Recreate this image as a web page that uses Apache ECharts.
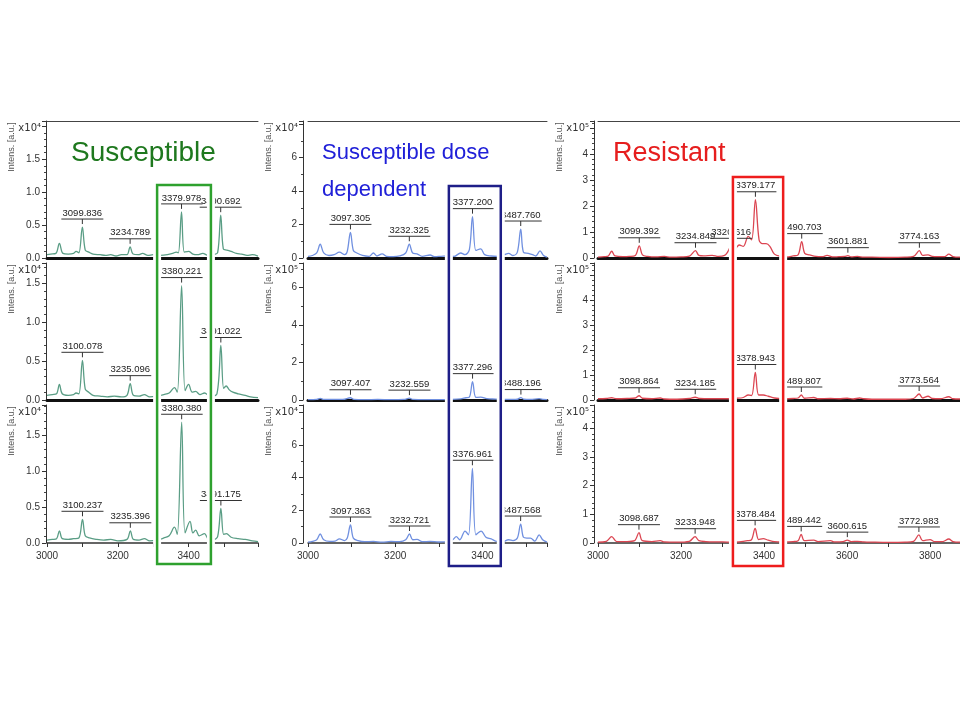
<!DOCTYPE html>
<html>
<head>
<meta charset="utf-8">
<script src="https://cdn.jsdelivr.net/npm/echarts@6/dist/echarts.min.js"></script>
<style>
  html, body { margin: 0; padding: 0; background: #fff; }
  #chart { width: 960px; height: 720px; }
</style>
</head>
<body>
<div id="chart"></div>
<script>
// spectra, [m/z, intensity] ; col1 x10^4, col2 x10^4 / x10^5, col3 x10^5
var susTop = [[3000,0.05],[3010,0.06],[3025,0.07],[3035,0.22],[3045,0.07],[3060,0.06],[3075,0.07],[3082,0.1],[3090,0.08],[3099.836,0.47],[3108,0.12],[3118,0.09],[3130,0.06],[3150,0.05],[3165,0.04],[3180,0.05],[3195,0.03],[3210,0.05],[3226,0.05],[3234.789,0.17],[3243,0.06],[3258,0.05],[3270,0.07],[3285,0.04],[3300,0.05],[3320,0.04],[3340,0.05],[3355,0.07],[3365,0.09],[3371,0.08],[3379.978,0.70],[3388,0.09],[3400,0.1],[3412,0.06],[3425,0.05],[3440,0.07],[3455,0.04],[3470,0.05],[3482,0.08],[3490.692,0.65],[3498,0.14],[3508,0.12],[3520,0.1],[3535,0.07],[3550,0.06],[3565,0.04],[3580,0.05],[3596,0.03]]
var susMid = [[3000,0.06],[3015,0.07],[3027,0.08],[3035,0.2],[3043,0.08],[3060,0.06],[3075,0.07],[3082,0.09],[3090,0.08],[3100.078,0.51],[3108,0.14],[3118,0.1],[3130,0.06],[3150,0.05],[3170,0.04],[3190,0.05],[3210,0.04],[3226,0.06],[3235.096,0.21],[3244,0.06],[3260,0.05],[3275,0.07],[3290,0.04],[3310,0.05],[3330,0.07],[3345,0.09],[3360,0.16],[3368,0.1],[3380.221,1.47],[3390,0.12],[3400,0.2],[3410,0.1],[3420,0.11],[3432,0.07],[3445,0.09],[3460,0.05],[3480,0.08],[3491.022,0.70],[3499,0.15],[3506,0.18],[3515,0.13],[3525,0.1],[3540,0.08],[3560,0.06],[3575,0.04],[3596,0.03]]
var susBot = [[3000,0.04],[3015,0.05],[3027,0.06],[3035,0.17],[3043,0.06],[3060,0.05],[3075,0.06],[3090,0.07],[3100.237,0.33],[3108,0.1],[3120,0.07],[3140,0.05],[3160,0.04],[3180,0.05],[3200,0.03],[3226,0.05],[3235.396,0.17],[3244,0.05],[3260,0.04],[3275,0.06],[3290,0.03],[3310,0.04],[3330,0.07],[3345,0.1],[3360,0.22],[3368,0.12],[3380.380,1.68],[3390,0.14],[3404,0.3],[3412,0.14],[3420,0.18],[3430,0.1],[3445,0.13],[3455,0.06],[3470,0.05],[3482,0.09],[3491.175,0.48],[3499,0.12],[3507,0.13],[3520,0.08],[3540,0.06],[3560,0.05],[3580,0.03],[3596,0.02]]

var sddTop = [[3000,0.1],[3010,0.15],[3020,0.3],[3028,0.82],[3036,0.3],[3048,0.15],[3060,0.2],[3072,0.35],[3084,0.2],[3090,0.4],[3097.305,1.53],[3104,0.45],[3112,0.3],[3125,0.15],[3140,0.1],[3150,0.3],[3158,0.12],[3170,0.25],[3180,0.1],[3195,0.08],[3210,0.12],[3224,0.3],[3232.325,0.82],[3240,0.3],[3250,0.25],[3262,0.1],[3280,0.18],[3290,0.08],[3305,0.1],[3320,0.12],[3335,0.1],[3350,0.3],[3360,0.2],[3370,0.5],[3377.200,2.47],[3385,0.45],[3396,0.55],[3405,0.2],[3420,0.12],[3435,0.1],[3450,0.2],[3460,0.28],[3470,0.15],[3480,0.35],[3487.760,1.73],[3494,0.35],[3505,0.28],[3515,0.2],[3522,0.12],[3532,0.42],[3540,0.15],[3548,0.05]]
var sddMid = [[3000,0.02],[3020,0.03],[3028,0.09],[3036,0.03],[3060,0.03],[3080,0.03],[3097.407,0.12],[3105,0.03],[3130,0.02],[3160,0.03],[3190,0.02],[3220,0.03],[3232.559,0.1],[3240,0.03],[3270,0.02],[3300,0.02],[3330,0.03],[3350,0.06],[3362,0.12],[3370,0.15],[3377.296,0.98],[3385,0.14],[3396,0.15],[3410,0.07],[3430,0.05],[3450,0.03],[3470,0.03],[3480,0.04],[3488.196,0.13],[3495,0.04],[3510,0.03],[3530,0.07],[3540,0.03],[3548,0.02]]
var sddBot = [[3000,0.05],[3010,0.1],[3020,0.2],[3028,0.55],[3036,0.2],[3050,0.1],[3062,0.12],[3072,0.25],[3084,0.15],[3090,0.3],[3097.363,1.1],[3104,0.3],[3115,0.15],[3130,0.08],[3150,0.1],[3170,0.05],[3190,0.1],[3210,0.08],[3224,0.2],[3232.721,0.55],[3240,0.2],[3250,0.22],[3262,0.08],[3280,0.1],[3300,0.06],[3320,0.08],[3332,0.2],[3340,0.39],[3348,0.2],[3360,0.73],[3368,0.5],[3376.961,4.57],[3385,0.5],[3397,0.73],[3408,0.35],[3420,0.25],[3430,0.12],[3445,0.06],[3460,0.2],[3470,0.15],[3480,0.3],[3487.568,1.16],[3494,0.35],[3502,0.3],[3510,0.3],[3520,0.12],[3530,0.5],[3538,0.2],[3548,0.05]]

var resTop = [[3000,0.03],[3015,0.05],[3025,0.08],[3033,0.26],[3041,0.08],[3060,0.05],[3075,0.06],[3090,0.1],[3099.392,0.47],[3107,0.12],[3120,0.06],[3140,0.04],[3160,0.06],[3175,0.03],[3200,0.04],[3220,0.07],[3234.849,0.28],[3243,0.1],[3255,0.08],[3275,0.1],[3290,0.06],[3305,0.1],[3313,0.25],[3320.616,0.45],[3330,0.35],[3340,0.5],[3350,0.45],[3362,0.83],[3370,0.7],[3379.177,2.24],[3388,0.7],[3396,0.55],[3405,0.55],[3414,0.45],[3425,0.15],[3440,0.06],[3455,0.04],[3470,0.08],[3482,0.12],[3490.703,0.63],[3498,0.18],[3510,0.12],[3525,0.06],[3540,0.05],[3552,0.1],[3565,0.04],[3580,0.05],[3594,0.06],[3601.881,0.09],[3610,0.04],[3625,0.06],[3640,0.03],[3660,0.03],[3700,0.02],[3740,0.03],[3760,0.06],[3774.163,0.28],[3782,0.1],[3795,0.12],[3805,0.06],[3820,0.05],[3835,0.05],[3845,0.15],[3855,0.05],[3872,0.03]]
var resMid = [[3000,0.05],[3020,0.06],[3033,0.09],[3045,0.05],[3070,0.06],[3090,0.08],[3098.864,0.17],[3107,0.07],[3130,0.05],[3150,0.08],[3160,0.04],[3190,0.03],[3220,0.06],[3234.185,0.11],[3245,0.06],[3270,0.05],[3300,0.05],[3335,0.07],[3350,0.1],[3362,0.2],[3370,0.18],[3378.943,1.1],[3387,0.2],[3398,0.2],[3410,0.15],[3425,0.08],[3445,0.05],[3470,0.06],[3482,0.08],[3489.807,0.2],[3497,0.07],[3520,0.1],[3530,0.05],[3560,0.06],[3580,0.05],[3600,0.07],[3615,0.04],[3630,0.08],[3640,0.05],[3660,0.03],[3700,0.03],[3740,0.03],[3760,0.06],[3773.564,0.24],[3782,0.08],[3795,0.15],[3805,0.06],[3825,0.05],[3845,0.13],[3855,0.05],[3872,0.04]]
var resBot = [[3000,0.03],[3020,0.06],[3033,0.22],[3045,0.05],[3070,0.05],[3088,0.08],[3098.687,0.36],[3107,0.08],[3130,0.05],[3150,0.08],[3160,0.04],[3190,0.03],[3220,0.06],[3233.948,0.22],[3243,0.08],[3260,0.05],[3290,0.04],[3320,0.03],[3340,0.04],[3360,0.08],[3370,0.12],[3378.484,0.51],[3387,0.12],[3398,0.15],[3410,0.1],[3425,0.05],[3445,0.04],[3470,0.05],[3482,0.08],[3489.442,0.3],[3497,0.08],[3520,0.1],[3530,0.05],[3560,0.08],[3570,0.04],[3590,0.05],[3600.615,0.1],[3610,0.05],[3625,0.06],[3640,0.04],[3660,0.03],[3700,0.02],[3740,0.03],[3760,0.06],[3772.983,0.28],[3782,0.08],[3800,0.12],[3810,0.05],[3830,0.05],[3845,0.14],[3855,0.05],[3872,0.03]]

// labelled peaks [m/z, height]
var susTopPeaks = [[3099.836,0.47],[3234.789,0.17],[3379.978,0.70],[3490.692,0.65]]
var susMidPeaks = [[3100.078,0.51],[3235.096,0.21],[3380.221,1.47],[3491.022,0.70]]
var susBotPeaks = [[3100.237,0.33],[3235.396,0.17],[3380.380,1.68],[3491.175,0.48]]
var sddTopPeaks = [[3097.305,1.53],[3232.325,0.82],[3377.200,2.47],[3487.760,1.73]]
var sddMidPeaks = [[3097.407,0.12],[3232.559,0.1],[3377.296,0.98],[3488.196,0.13]]
var sddBotPeaks = [[3097.363,1.1],[3232.721,0.55],[3376.961,4.57],[3487.568,1.16]]
var resTopPeaks = [[3099.392,0.47],[3234.849,0.28],[3320.616,0.45],[3379.177,2.24],[3490.703,0.63],[3601.881,0.09],[3774.163,0.28]]
var resMidPeaks = [[3098.864,0.17],[3234.185,0.11],[3378.943,1.1],[3489.807,0.2],[3773.564,0.24]]
var resBotPeaks = [[3098.687,0.36],[3233.948,0.22],[3378.484,0.51],[3489.442,0.3],[3600.615,0.1],[3772.983,0.28]]

var titles = ['Susceptible', 'Susceptible dose\ndependent', 'Resistant']
var xTicks = [3000, 3200, 3400, 3600, 3800]

var spectra = [[susTop, susMid, susBot], [sddTop, sddMid, sddBot], [resTop, resMid, resBot]]
var peaks = [[susTopPeaks, susMidPeaks, susBotPeaks], [sddTopPeaks, sddMidPeaks, sddBotPeaks], [resTopPeaks, resMidPeaks, resBotPeaks]]

// layout
var colLeft = [47, 308, 598]
var colWidth = [211, 239, 362]
var colXMax = [3596, 3548, 3872]
var axisShift = [1, 5, 4]
var rowTop = [121, 263, 405]
var rowZero = [258, 400, 543]
var lineColor = ['#5a9d85', '#7090e0', '#dc4652']
var boxColor = ['#2ea12e', '#1e1e88', '#ee1d1d']
var boxMass = [[3311, 3463], [3323, 3442], [3325, 3446]]
var boxY = [[185, 564], [186, 566], [177, 566]]
var yInterval = [0.5, 2, 1]
var yMinor = [5, 2, 5]
var yHide = [2, 8, 5]
var yMax = [[2.08, 1.76, 1.92], [8.18, 7.31, 8.44], [5.27, 5.48, 4.81]]
var yExp = [['4', '4', '4'], ['4', '5', '4'], ['5', '5', '5']]
var sup = {'4': '\u2074', '5': '\u2075'}

var chart = echarts.init(document.getElementById('chart'))

var grids = [], xAxes = [], yAxes = [], series = [], texts = []

function peakLabel(params, api) {
  var p = api.coord([api.value(0), api.value(1)])
  var uy = p[1] - 8
  return {
    type: 'group',
    children: [
      {type: 'line', shape: {x1: p[0], y1: uy, x2: p[0], y2: p[1] - 3}, style: {stroke: '#333', lineWidth: 1}},
      {type: 'line', shape: {x1: p[0] - 21, y1: uy, x2: p[0] + 21, y2: uy}, style: {stroke: '#333', lineWidth: 1}},
      {type: 'text', x: p[0], y: uy - 1, style: {text: api.value(0).toFixed(3), align: 'center', verticalAlign: 'bottom', font: '9.5px "Liberation Sans", Arial, sans-serif', fill: '#222'}}
    ]
  }
}

for (var c = 0; c < 3; c++) {
  for (var r = 0; r < 3; r++) {
    var i = c * 3 + r
    var bottom = r === 2
    grids.push({left: colLeft[c], top: rowTop[r], width: colWidth[c], height: rowZero[r] - rowTop[r]})
    xAxes.push({
      type: 'value', gridIndex: i, min: 3000, max: colXMax[c], interval: 200,
      offset: bottom ? 2 : 4,
      axisLine: {show: true, lineStyle: {color: bottom ? '#333' : '#111', width: bottom ? 1.5 : 3}},
      axisTick: {show: bottom, length: 4, lineStyle: {color: '#333'}},
      minorTick: {show: bottom, splitNumber: 2, length: 4, lineStyle: {color: '#333'}},
      axisLabel: {show: bottom, fontSize: 10, color: '#333', margin: 6, showMaxLabel: false,
        formatter: function (v) { return xTicks.indexOf(v) >= 0 ? String(v) : '' }},
      splitLine: {show: false}
    })
    ;(function (c) {
      yAxes.push({
        type: 'value', gridIndex: i, min: 0, max: yMax[c][r], interval: yInterval[c],
        offset: axisShift[c],
        axisLine: {show: true, lineStyle: {color: '#333', width: 1}},
        axisTick: {show: true, length: 4, lineStyle: {color: '#333'}},
        minorTick: {show: true, splitNumber: yMinor[c], length: 2, lineStyle: {color: '#444'}},
        axisLabel: {fontSize: 10, color: '#333', margin: 6, showMaxLabel: false,
          formatter: function (v) {
            var k = v / yInterval[c]
            if (Math.abs(k - Math.round(k)) > 1e-6 || v >= yHide[c] - 1e-6) return ''
            return c === 0 ? v.toFixed(1) : String(Math.round(v))
          }},
        splitLine: {show: false}
      })
    })(c)
    series.push({
      type: 'line', xAxisIndex: i, yAxisIndex: i, data: spectra[c][r],
      showSymbol: false, smooth: 0.35, clip: true,
      lineStyle: {color: lineColor[c], width: 1.3}, silent: true
    })
    series.push({
      type: 'custom', xAxisIndex: i, yAxisIndex: i, data: peaks[c][r],
      renderItem: peakLabel, silent: true, z: 5
    })
    var ax = colLeft[c] - axisShift[c]
    texts.push({type: 'text', x: ax - 34, y: rowTop[r] + 26, rotation: Math.PI / 2,
      style: {text: 'Intens. [a.u.]', align: 'center', verticalAlign: 'middle', font: '9px "Liberation Sans", Arial, sans-serif', fill: '#555'}})
    texts.push({type: 'text', x: ax - 5, y: rowTop[r] + 7,
      style: {text: 'x10' + sup[yExp[c][r]], align: 'right', verticalAlign: 'middle', font: '10px "DejaVu Sans", sans-serif', fill: '#333'}})
  }
}

// thin frame line on top of the upper panels
for (var c = 0; c < 3; c++) {
  xAxes.push({
    type: 'value', gridIndex: c * 3, position: 'top', min: 3000, max: colXMax[c],
    axisLine: {show: true, lineStyle: {color: '#444', width: 1}},
    axisTick: {show: false}, axisLabel: {show: false}, splitLine: {show: false}
  })
}

texts.push({type: 'text', x: 71, y: 153, z: 50,
  style: {text: titles[0], align: 'left', verticalAlign: 'middle', font: '28px "Liberation Sans", Arial, sans-serif', fill: '#1e781e'}})
texts.push({type: 'text', x: 322, y: 171, z: 50,
  style: {text: titles[1], align: 'left', verticalAlign: 'middle', lineHeight: 37, font: '22px "Liberation Sans", Arial, sans-serif', fill: '#2020d8'}})
texts.push({type: 'text', x: 613, y: 154, z: 50,
  style: {text: titles[2], align: 'left', verticalAlign: 'middle', font: '27px "Liberation Sans", Arial, sans-serif', fill: '#e61e1e'}})

chart.setOption({
  animation: false,
  backgroundColor: '#fff',
  grid: grids,
  xAxis: xAxes,
  yAxis: yAxes,
  series: series,
  graphic: texts
})

// highlight boxes round the ~3380 peak
var boxes = []
for (var c = 0; c < 3; c++) {
  var x1 = chart.convertToPixel({xAxisIndex: c * 3}, boxMass[c][0])
  var x2 = chart.convertToPixel({xAxisIndex: c * 3}, boxMass[c][1])
  var shape = {x: x1, y: boxY[c][0], width: x2 - x1, height: boxY[c][1] - boxY[c][0]}
  boxes.push({type: 'rect', z: 100, shape: shape, style: {fill: 'none', stroke: '#fff', lineWidth: 8}})
  boxes.push({type: 'rect', z: 101, shape: shape, style: {fill: 'none', stroke: boxColor[c], lineWidth: 2.5}})
}
chart.setOption({graphic: texts.concat(boxes)})
</script>
</body>
</html>
